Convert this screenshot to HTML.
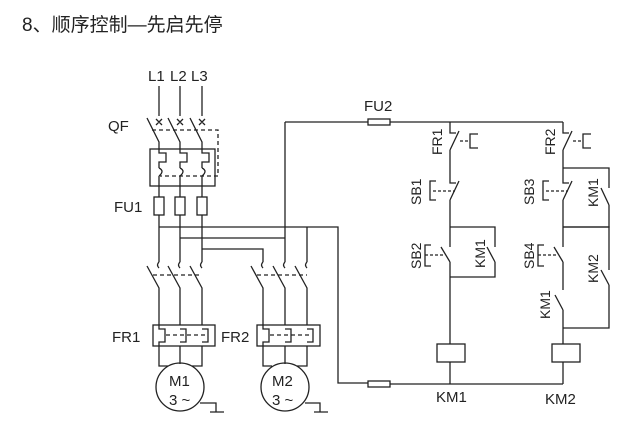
<!DOCTYPE html>
<html><head><meta charset="utf-8"><style>
html,body{margin:0;padding:0;background:#fff;width:630px;height:428px;overflow:hidden}
svg{display:block}
text{font-family:"Liberation Sans",Arial,sans-serif;fill:#222}
</style></head><body>
<svg width="630" height="428" viewBox="0 0 630 428" xmlns="http://www.w3.org/2000/svg">
<text x="22" y="31" font-size="19" style='font-family:"Liberation Sans","Noto Sans CJK SC",sans-serif' fill="#222">8、顺序控制—先启先停</text>
<g stroke="#222" stroke-width="1.3" fill="none">
<path d="M159 86V116 M180 86V116 M202 86V116"/>
<path d="M156 119l6 6M162 119l-6 6 M177 119l6 6M183 119l-6 6 M199 119l6 6M205 119l-6 6"/>
<path d="M147 118L159 142V150 M168 118L180 142V150 M190 118L202 142V150"/>
<path d="M152 130H218V176H160" stroke-dasharray="4 3"/>
<rect x="150" y="149" width="65" height="37"/>
<path d="M159 150V153H166V162H159V168 M180 150V153H187V162H180V168 M202 150V153H209V162H202V168"/>
<path d="M159 168q6 3 0 8 M180 168q6 3 0 8 M202 168q6 3 0 8"/>
<path d="M159 176V197 M180 176V197 M202 176V197"/>
<rect x="154" y="197" width="10" height="18"/><rect x="175" y="197" width="10" height="18"/><rect x="197" y="197" width="10" height="18"/>
<path d="M159 215V262 M180 215V262 M202 215V262"/>
<path d="M159 227H338V383H368 M390 384H563"/>
<path d="M180 238H285 M202 249H263V262 M307 227V262"/>
<path d="M285 122H368 M390 122H563"/>
<path d="M285 122V262"/>
<rect x="368" y="119" width="22" height="6"/>
<rect x="368" y="381" width="22" height="6"/>
<g>
<path d="M159 262q-3 3 0 6 M180 262q-3 3 0 6 M202 262q-3 3 0 6 M263 262q-3 3 0 6 M285 262q-3 3 0 6 M307 262q-3 3 0 6"/>
<path d="M147 266L159 288V325 M168 266L180 288V325 M190 266L202 288V325 M251 266L263 288V325 M273 266L285 288V325 M295 266L307 288V325"/>
<path d="M153 275H202 M257 275H307" stroke-dasharray="4 3"/>
</g>
<rect x="153" y="325" width="62" height="21"/>
<rect x="257" y="325" width="63" height="21"/>
<path d="M159 325V329H165V342H159V346 M180 329H186V342H180 M202 329H208V342H202 M263 325V329H269V342H263V346 M285 329H291V342H285 M307 329H313V342H307"/>
<path d="M166 335H208 M270 335H312" stroke-dasharray="4 3"/>
<path d="M159 346V366L168 366 M180 346V364 M202 346V366L192 366 M263 346V366L272 366 M285 346V364 M307 346V366L297 366"/>
<circle cx="180" cy="387" r="24"/>
<circle cx="285" cy="387" r="24"/>
<path d="M200 403H216V412 M210 412H224 M305 403H320V412 M314 412H328"/>
<path d="M450 122V133H456 M450 150L459 131 M450 150V183H456 M450 200L459 181 M450 200V227"/>
<path d="M460 141H470" stroke-dasharray="3 2"/>
<path d="M478 134H470V148H478"/>
<path d="M433 191H455" stroke-dasharray="3 2"/>
<path d="M436 181H430V200H436"/>
<path d="M450 227H495V247 M495 262L487 247 M495 262V277H450"/>
<path d="M450 227V247 M450 262L441 247 M450 262V344"/>
<path d="M425 255H445" stroke-dasharray="3 2"/>
<path d="M431 245H425V266H431"/>
<rect x="437" y="344" width="28" height="18"/>
<path d="M450 362V384"/>
<path d="M563 122V133H569 M563 150L572 131 M563 150V183H569 M563 200L572 181 M563 200V227"/>
<path d="M573 141H583" stroke-dasharray="3 2"/>
<path d="M591 134H583V148H591"/>
<path d="M546 191H568" stroke-dasharray="3 2"/>
<path d="M549 181H543V200H549"/>
<path d="M563 168H609V188 M609 205L601 188 M609 205V227H563"/>
<path d="M563 227H609V270 M609 285L601 270 M609 285V328H563"/>
<path d="M563 227V247 M563 262L554 247 M563 262V290 M563 310L555 295 M563 310V344"/>
<path d="M538 255H558" stroke-dasharray="3 2"/>
<path d="M544 245H538V266H544"/>
<rect x="552" y="344" width="28" height="18"/>
<path d="M563 362V384"/>
</g>
<g font-size="15">
<text x="148" y="81">L1</text><text x="170" y="81">L2</text><text x="191" y="81">L3</text>
<text x="108" y="131">QF</text>
<text x="114" y="212">FU1</text>
<text x="364" y="111">FU2</text>
<text x="112" y="342">FR1</text>
<text x="221" y="342">FR2</text>
<text x="169" y="386">M1</text><text x="169" y="405">3 ~</text>
<text x="272" y="386">M2</text><text x="272" y="405">3 ~</text>
<text x="436" y="402">KM1</text>
<text x="545" y="404">KM2</text>
</g>
<g font-size="14">
<text transform="translate(442,155) rotate(-90)">FR1</text>
<text transform="translate(555,155) rotate(-90)">FR2</text>
<text transform="translate(421,205) rotate(-90)">SB1</text>
<text transform="translate(534,205) rotate(-90)">SB3</text>
<text transform="translate(421,269) rotate(-90)">SB2</text>
<text transform="translate(534,269) rotate(-90)">SB4</text>
<text transform="translate(485,268) rotate(-90)">KM1</text>
<text transform="translate(598,207) rotate(-90)">KM1</text>
<text transform="translate(598,283) rotate(-90)">KM2</text>
<text transform="translate(550,319) rotate(-90)">KM1</text>
</g>
</svg>
</body></html>
